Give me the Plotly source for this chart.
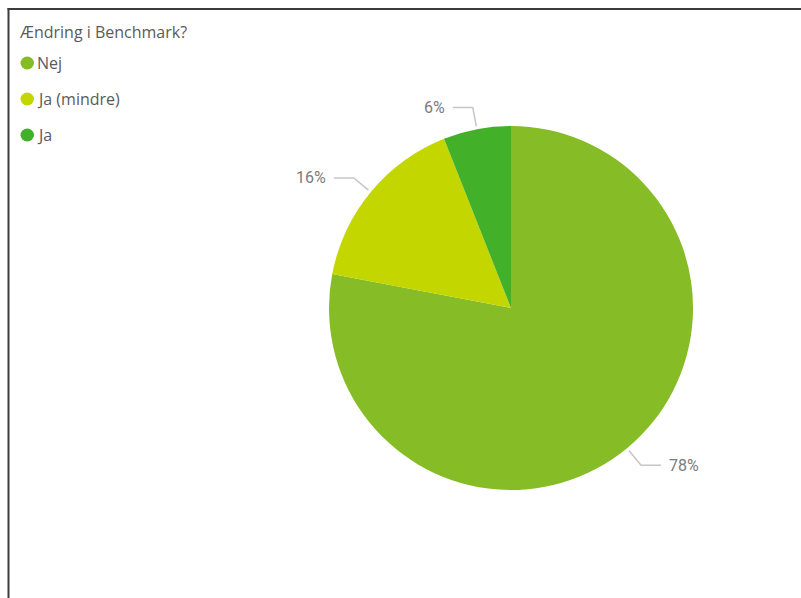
import math
import plotly.graph_objects as go

# Survey answers: did the benchmark change?
legend_title = "Ændring i Benchmark?"
categories = ["Nej", "Ja (mindre)", "Ja"]
shares = [78, 16, 6]
colors = ["#86BC25", "#C4D600", "#43B02A"]

W, H = 801, 598
CX, CY, R = 511, 308, 182  # pie centre and radius in pixels


def px(x):
    return x / W


def py(y):
    return (H - y) / H


fig = go.Figure()
fig.add_trace(go.Pie(
    labels=categories,
    values=shares,
    marker=dict(colors=colors, line=dict(width=0)),
    sort=False,
    direction="clockwise",
    rotation=0,
    textinfo="none",
    hoverinfo="label+percent",
    showlegend=False,
    domain=dict(x=[px(CX - R), px(CX + R)], y=[py(CY + R), py(CY - R)]),
))

shapes = []
annotations = []

# Outside percentage labels with elbow leader lines
total = sum(shares)
cum = 0.0
for name, v in zip(categories, shares):
    mid = (cum + v / 2) / total * 2 * math.pi
    cum += v
    sx, sy = math.sin(mid), -math.cos(mid)
    x0, y0 = CX + (R + 3) * sx, CY + (R + 3) * sy
    x1, y1 = CX + (R + 22) * sx, CY + (R + 22) * sy
    side = 1 if sx >= 0 else -1
    x2 = x1 + side * 20
    shapes.append(dict(
        type="path", xref="paper", yref="paper",
        path=f"M {px(x0)} {py(y0)} L {px(x1)} {py(y1)} L {px(x2)} {py(y1)}",
        line=dict(color="#c6c6c6", width=1.5),
    ))
    annotations.append(dict(
        xref="paper", yref="paper",
        x=px(x2 + side * 6), y=py(y1),
        text=f"{round(v / total * 100)}%",
        showarrow=False,
        xanchor="left" if side > 0 else "right",
        yanchor="middle",
        font=dict(family="Roboto", size=16, color="#7b7b7b"),
    ))

# Legend drawn at the top-left
annotations.append(dict(
    xref="paper", yref="paper", x=px(17), y=py(32),
    text=legend_title, showarrow=False, xanchor="left", yanchor="middle",
    font=dict(family="Open Sans", size=16, color="#5a5a5a"),
))
for i, (name, c) in enumerate(zip(categories, colors)):
    yc = 63 + 36 * i
    shapes.append(dict(
        type="circle", xref="paper", yref="paper",
        x0=px(20.5), x1=px(34), y0=py(yc + 6.5), y1=py(yc - 6.5),
        fillcolor=c, line=dict(width=0),
    ))
    annotations.append(dict(
        xref="paper", yref="paper", x=px(35), y=py(yc),
        text=name, showarrow=False, xanchor="left", yanchor="middle",
        font=dict(family="Open Sans", size=16, color="#5a5a5a"),
    ))

# Frame lines along the top and left edges
shapes.append(dict(type="line", xref="paper", yref="paper",
                   x0=px(7.5), x1=1, y0=py(9), y1=py(9),
                   line=dict(color="#3c3c3c", width=2)))
shapes.append(dict(type="line", xref="paper", yref="paper",
                   x0=px(8.5), x1=px(8.5), y0=0, y1=py(8),
                   line=dict(color="#3c3c3c", width=2)))

fig.update_layout(
    width=W, height=H,
    margin=dict(l=0, r=0, t=0, b=0),
    paper_bgcolor="white",
    plot_bgcolor="white",
    shapes=shapes,
    annotations=annotations,
)

fig.write_html("out.html")
